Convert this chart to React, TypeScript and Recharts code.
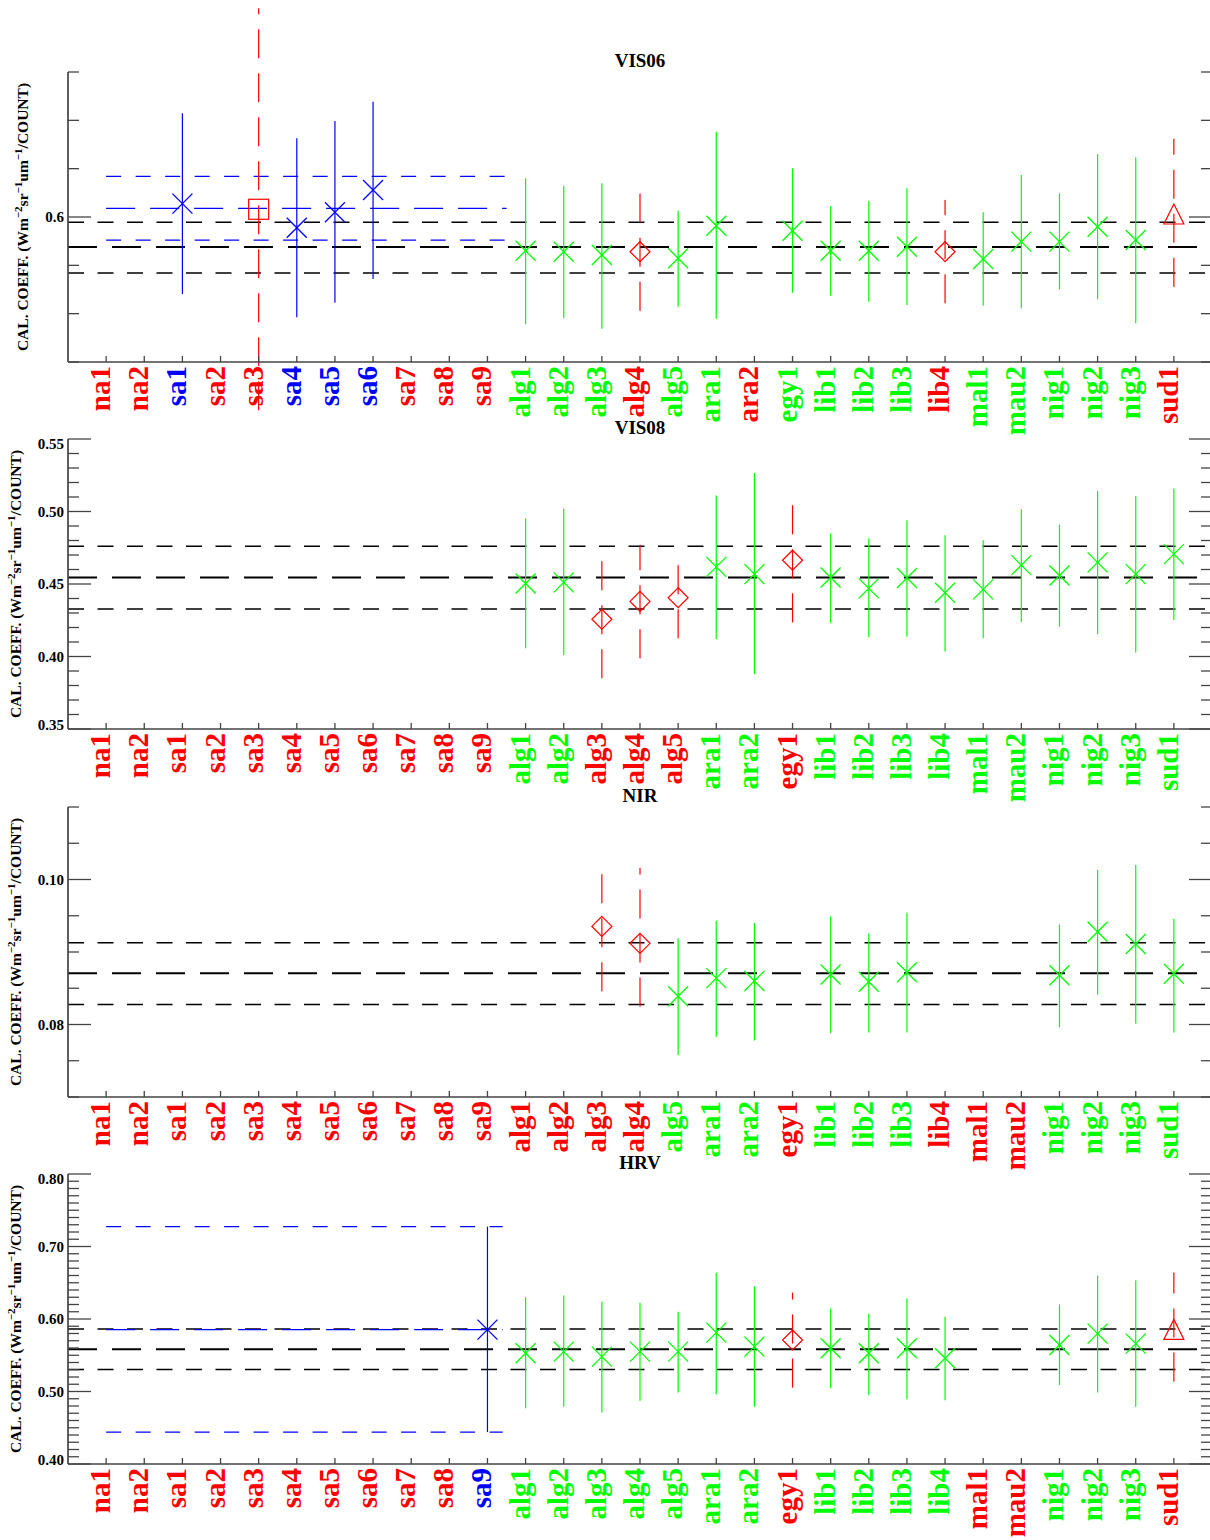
import {
  ComposedChart,
  ErrorBar,
  ReferenceLine,
  Scatter,
  XAxis,
  YAxis,
} from 'recharts';

const SERIF = '"Liberation Serif", "Times New Roman", serif';
const FRAME = '#444';

const SITES = [
  'na1', 'na2', 'sa1', 'sa2', 'sa3', 'sa4', 'sa5', 'sa6', 'sa7', 'sa8', 'sa9',
  'alg1', 'alg2', 'alg3', 'alg4', 'alg5', 'ara1', 'ara2', 'egy1',
  'lib1', 'lib2', 'lib3', 'lib4', 'mal1', 'mau2', 'nig1', 'nig2', 'nig3', 'sud1',
];
const SITE_TICKS = SITES.map((_, i) => i + 1);

const LABEL_COLOR: Record<string, string> = { r: '#ff0000', g: '#00ff00', b: '#0000ff' };

// label colour per site, one code per entry of SITES
const VIS06_LABELS = ['r', 'r', 'b', 'r', 'r', 'b', 'b', 'b', 'r', 'r', 'r', 'g', 'g', 'g', 'r', 'g', 'g', 'r', 'g', 'g', 'g', 'g', 'r', 'g', 'g', 'g', 'g', 'g', 'r'];
const VIS08_LABELS = ['r', 'r', 'r', 'r', 'r', 'r', 'r', 'r', 'r', 'r', 'r', 'g', 'g', 'r', 'r', 'r', 'g', 'g', 'r', 'g', 'g', 'g', 'g', 'g', 'g', 'g', 'g', 'g', 'g'];
const NIR_LABELS = ['r', 'r', 'r', 'r', 'r', 'r', 'r', 'r', 'r', 'r', 'r', 'r', 'r', 'r', 'r', 'g', 'g', 'g', 'r', 'g', 'g', 'g', 'r', 'r', 'r', 'g', 'g', 'g', 'g'];
const HRV_LABELS = ['r', 'r', 'r', 'r', 'r', 'r', 'r', 'r', 'r', 'r', 'b', 'g', 'g', 'g', 'g', 'g', 'g', 'g', 'r', 'g', 'g', 'g', 'g', 'r', 'r', 'g', 'g', 'g', 'r'];

// VIS06
const VIS06_SITES = ['sa1', 'sa3', 'sa4', 'sa5', 'sa6', 'alg1', 'alg2', 'alg3', 'alg4', 'alg5', 'ara1', 'egy1', 'lib1', 'lib2', 'lib3', 'lib4', 'mal1', 'mau2', 'nig1', 'nig2', 'nig3', 'sud1'];
const VIS06_MARKS = ['bx', 'rs', 'bx', 'bx', 'bx', 'gx', 'gx', 'gx', 'rd', 'gx', 'gx', 'gx', 'gx', 'gx', 'gx', 'rd', 'gx', 'gx', 'gx', 'gx', 'gx', 'rt'];
const VIS06_VAL = [0.6138, 0.608, 0.5889, 0.6049, 0.6279, 0.5651, 0.5641, 0.5607, 0.5641, 0.5573, 0.591, 0.5858, 0.5651, 0.5651, 0.5693, 0.5641, 0.5566, 0.5745, 0.5745, 0.59, 0.5762, 0.6031];
const VIS06_LO = [0.5203, 0.4, 0.4962, 0.5114, 0.5359, 0.489, 0.4952, 0.4845, 0.5031, 0.5072, 0.4948, 0.5217, 0.5186, 0.5124, 0.509, 0.5107, 0.5083, 0.5055, 0.5252, 0.5149, 0.49, 0.5279];
const VIS06_HI = [0.7073, 0.816, 0.6814, 0.6993, 0.7193, 0.64, 0.6324, 0.6349, 0.6245, 0.6065, 0.6882, 0.6504, 0.6114, 0.6166, 0.6297, 0.6176, 0.6049, 0.6434, 0.6245, 0.6652, 0.6617, 0.6807];
const VIS06_REF = [0.542, 0.569, 0.5945];
const VIS06_SAT = [0.576, 0.609, 0.642];

// VIS08
const VIS08_SITES = ['alg1', 'alg2', 'alg3', 'alg4', 'alg5', 'ara1', 'ara2', 'egy1', 'lib1', 'lib2', 'lib3', 'lib4', 'mal1', 'mau2', 'nig1', 'nig2', 'nig3', 'sud1'];
const VIS08_MARKS = ['gx', 'gx', 'rd', 'rd', 'rd', 'gx', 'gx', 'rd', 'gx', 'gx', 'gx', 'gx', 'gx', 'gx', 'gx', 'gx', 'gx', 'gx'];
const VIS08_VAL = [0.4504, 0.4511, 0.4257, 0.438, 0.4405, 0.4618, 0.4568, 0.4664, 0.4545, 0.447, 0.4541, 0.444, 0.4463, 0.463, 0.4559, 0.4649, 0.4568, 0.4706];
const VIS08_LO = [0.4057, 0.4011, 0.385, 0.3988, 0.4126, 0.4121, 0.388, 0.4236, 0.4233, 0.4133, 0.4137, 0.4034, 0.4126, 0.4236, 0.4206, 0.4153, 0.4027, 0.4252];
const VIS08_HI = [0.4951, 0.502, 0.4657, 0.4768, 0.4635, 0.5111, 0.5265, 0.5043, 0.4848, 0.4814, 0.494, 0.4836, 0.4802, 0.5015, 0.491, 0.5141, 0.5107, 0.5158];
const VIS08_REF = [0.4327, 0.4545, 0.476];

// NIR
const NIR_SITES = ['alg3', 'alg4', 'alg5', 'ara1', 'ara2', 'lib1', 'lib2', 'lib3', 'nig1', 'nig2', 'nig3', 'sud1'];
const NIR_MARKS = ['rd', 'rd', 'gx', 'gx', 'gx', 'gx', 'gx', 'gx', 'gx', 'gx', 'gx', 'gx'];
const NIR_VAL = [0.09353, 0.0912, 0.0839, 0.0864, 0.086, 0.0869, 0.0859, 0.0872, 0.0868, 0.0928, 0.0911, 0.087];
const NIR_LO = [0.08459, 0.0825, 0.0758, 0.0783, 0.0778, 0.0788, 0.0789, 0.0789, 0.0796, 0.0841, 0.0801, 0.0789];
const NIR_HI = [0.1008, 0.1016, 0.0919, 0.0943, 0.094, 0.0949, 0.0926, 0.0954, 0.0938, 0.1013, 0.102, 0.0946];
const NIR_REF = [0.08275, 0.08706, 0.09129];

// HRV
const HRV_SITES = ['sa9', 'alg1', 'alg2', 'alg3', 'alg4', 'alg5', 'ara1', 'ara2', 'egy1', 'lib1', 'lib2', 'lib3', 'lib4', 'nig1', 'nig2', 'nig3', 'sud1'];
const HRV_MARKS = ['bx', 'gx', 'gx', 'gx', 'gx', 'gx', 'gx', 'gx', 'rd', 'gx', 'gx', 'gx', 'gx', 'gx', 'gx', 'gx', 'rt'];
const HRV_VAL = [0.5853, 0.5527, 0.555, 0.5481, 0.555, 0.555, 0.5812, 0.5619, 0.571, 0.5596, 0.5527, 0.5596, 0.5458, 0.5641, 0.5798, 0.566, 0.5857];
const HRV_LO = [0.444, 0.477, 0.4788, 0.4711, 0.4871, 0.4986, 0.4963, 0.4788, 0.5055, 0.5045, 0.4953, 0.4894, 0.488, 0.5091, 0.4986, 0.4788, 0.5138];
const HRV_HI = [0.7274, 0.6301, 0.6325, 0.6238, 0.6224, 0.61, 0.6637, 0.6453, 0.6362, 0.6142, 0.6073, 0.6283, 0.6032, 0.6201, 0.66, 0.6535, 0.6637];
const HRV_REF = [0.5302, 0.5582, 0.5861];
const HRV_SAT = [0.444, 0.5853, 0.7274];

// axis ranges and labelled ticks
const VIS06_DOMAIN = [0.45, 0.75];
const VIS06_MAJOR = [0.6];
const VIS08_DOMAIN = [0.35, 0.55];
const VIS08_MAJOR = [0.35, 0.4, 0.45, 0.5, 0.55];
const NIR_DOMAIN = [0.07, 0.11];
const NIR_MAJOR = [0.08, 0.1];
const HRV_DOMAIN = [0.4, 0.8];
const HRV_MAJOR = [0.4, 0.5, 0.6, 0.7, 0.8];

const MARK_STYLES: Record<string, { color: string; shape: string; dash?: string }> = {
  gx: { color: '#00ff00', shape: 'x' },
  bx: { color: '#0000ff', shape: 'x' },
  rd: { color: '#ff0000', shape: 'diamond', dash: '29 15' },
  rt: { color: '#ff0000', shape: 'triangle', dash: '29 15' },
  rs: { color: '#ff0000', shape: 'square', dash: '29 15' },
};

const PANELS = [
  {
    title: 'VIS06', sites: VIS06_SITES, marks: VIS06_MARKS, val: VIS06_VAL, lo: VIS06_LO, hi: VIS06_HI,
    labels: VIS06_LABELS, ref: VIS06_REF, sat: VIS06_SAT, satEnd: 11.5,
    domain: VIS06_DOMAIN, major: VIS06_MAJOR, step: 0.05, digits: 1, titleX: 28,
  },
  {
    title: 'VIS08', sites: VIS08_SITES, marks: VIS08_MARKS, val: VIS08_VAL, lo: VIS08_LO, hi: VIS08_HI,
    labels: VIS08_LABELS, ref: VIS08_REF, sat: null, satEnd: 0,
    domain: VIS08_DOMAIN, major: VIS08_MAJOR, step: 0.01, digits: 2, titleX: 21,
  },
  {
    title: 'NIR', sites: NIR_SITES, marks: NIR_MARKS, val: NIR_VAL, lo: NIR_LO, hi: NIR_HI,
    labels: NIR_LABELS, ref: NIR_REF, sat: null, satEnd: 0,
    domain: NIR_DOMAIN, major: NIR_MAJOR, step: 0.005, digits: 2, titleX: 21,
  },
  {
    title: 'HRV', sites: HRV_SITES, marks: HRV_MARKS, val: HRV_VAL, lo: HRV_LO, hi: HRV_HI,
    labels: HRV_LABELS, ref: HRV_REF, sat: HRV_SAT, satEnd: 11.4,
    domain: HRV_DOMAIN, major: HRV_MAJOR, step: 0.01, digits: 2, titleX: 21,
  },
];

const PANEL_TOPS = [0, 367.3, 735.3, 1102.3];
const PLOT_TOP = 72;
const PLOT_H = 290;
const BOTTOM_H = 78;
const CHART_W = 1222;

function Marker({ cx, cy, shape, color }: { cx: number; cy: number; shape: string; color: string }) {
  const r = 10;
  if (shape === 'diamond') {
    return <polygon points={`${cx},${cy - r} ${cx + r},${cy} ${cx},${cy + r} ${cx - r},${cy}`} fill="none" stroke={color} strokeWidth={1.2} />;
  }
  if (shape === 'square') {
    return <rect x={cx - r} y={cy - r} width={2 * r} height={2 * r} fill="none" stroke={color} strokeWidth={1.2} />;
  }
  if (shape === 'triangle') {
    return <polygon points={`${cx},${cy - r} ${cx + r},${cy + r} ${cx - r},${cy + r}`} fill="none" stroke={color} strokeWidth={1.2} />;
  }
  return (
    <g stroke={color} strokeWidth={1.3}>
      <line x1={cx - r} y1={cy - r} x2={cx + r} y2={cy + r} />
      <line x1={cx - r} y1={cy + r} x2={cx + r} y2={cy - r} />
    </g>
  );
}

function buildTicks(domain: number[], step: number) {
  const out: number[] = [];
  for (let v = domain[0]; v <= domain[1] + 1e-9; v += step) out.push(+v.toFixed(6));
  return out;
}

// axis title on the left plus the panel title above the frame
function PanelTitles({ viewBox, bx, title }: any) {
  const cy = viewBox.y + viewBox.height / 2;
  return (
    <g>
      <text x={640} y={PLOT_TOP - 5} textAnchor="middle" fontFamily={SERIF} fontWeight="bold" fontSize={19} fill="#000">
        {title}
      </text>
      <text x={bx} y={cy} transform={`rotate(-90 ${bx} ${cy})`} textAnchor="middle" fontFamily={SERIF} fontWeight="bold" fontSize={15.5} fill="#000">
        CAL. COEFF. (Wm<tspan dy={-6} fontSize={11}>−2</tspan><tspan dy={6}>sr</tspan><tspan dy={-6} fontSize={11}>−1</tspan><tspan dy={6}>um</tspan><tspan dy={-6} fontSize={11}>−1</tspan><tspan dy={6}>/COUNT)</tspan>
      </text>
    </g>
  );
}

function Panel({ cfg, top }: { cfg: any; top: number }) {
  const pts = cfg.sites.map((s: string, i: number) => ({
    x: SITES.indexOf(s) + 1,
    y: cfg.val[i],
    lo: cfg.lo[i],
    hi: cfg.hi[i],
    err: [cfg.val[i] - cfg.lo[i], cfg.hi[i] - cfg.val[i]],
    mark: cfg.marks[i],
  }));
  const groups = Object.keys(MARK_STYLES)
    .map((k) => ({ k, data: pts.filter((p: any) => p.mark === k) }))
    .filter((g) => g.data.length > 0);
  const yTicks = buildTicks(cfg.domain, cfg.step);
  const isMajor = (v: number) => cfg.major.some((m: number) => Math.abs(m - v) < 1e-9);

  const bottomTick = (props: any) => {
    const { x, y, payload } = props;
    const i = payload.value - 1;
    const tx = x + 4;
    const ty = y + 4;
    return (
      <g>
        <line x1={x} y1={y} x2={x} y2={y - 6} stroke={FRAME} strokeWidth={1.3} />
        <text x={tx} y={ty} transform={`rotate(-90 ${tx} ${ty})`} textAnchor="end" fill={LABEL_COLOR[cfg.labels[i]]} fontFamily={SERIF} fontWeight="bold" fontSize={29}>
          {SITES[i]}
        </text>
      </g>
    );
  };
  const topTick = (props: any) => {
    const { x, y } = props;
    return <line x1={x} y1={y} x2={x} y2={y + 6} stroke={FRAME} strokeWidth={1.3} />;
  };
  const leftTick = (props: any) => {
    const { x, y, payload } = props;
    const v = payload.value;
    const major = isMajor(v);
    let dy = 5;
    if (Math.abs(v - cfg.domain[1]) < 1e-9) dy += 5;
    if (Math.abs(v - cfg.domain[0]) < 1e-9) dy -= 4;
    return (
      <g>
        <line x1={x} y1={y} x2={x + (major ? 23 : 11)} y2={y} stroke={FRAME} strokeWidth={1.3} />
        {major && (
          <text x={x - 4} y={y + dy} textAnchor="end" fontFamily={SERIF} fontWeight="bold" fontSize={15} fill="#000">
            {v.toFixed(cfg.digits)}
          </text>
        )}
      </g>
    );
  };
  const rightTick = (props: any) => {
    const { x, y, payload } = props;
    const major = isMajor(payload.value);
    return <line x1={x} y1={y} x2={x - (major ? 23 : 11)} y2={y} stroke={FRAME} strokeWidth={1.3} />;
  };

  const frame = { stroke: FRAME, strokeWidth: 1.7 };

  return (
    <div style={{ position: 'absolute', left: 0, top }}>
      <ComposedChart width={CHART_W} height={PLOT_TOP + PLOT_H + BOTTOM_H} margin={{ top: PLOT_TOP, right: 0, bottom: 0, left: 0 }}>
        <XAxis
          xAxisId="b" type="number" dataKey="x" domain={[0, 30]} ticks={SITE_TICKS} interval={0}
          allowDataOverflow height={BOTTOM_H} tick={bottomTick} tickLine={false} tickSize={0} tickMargin={0} axisLine={frame}
        />
        <XAxis
          xAxisId="t" orientation="top" type="number" domain={[0, 30]} ticks={SITE_TICKS} interval={0}
          allowDataOverflow height={0} tick={topTick} tickLine={false} tickSize={0} tickMargin={0} axisLine={frame}
        />
        <YAxis
          yAxisId="l" type="number" dataKey="y" domain={cfg.domain} ticks={yTicks} interval={0}
          allowDataOverflow width={68} tick={leftTick} tickLine={false} tickSize={0} tickMargin={0} axisLine={frame}
          label={{ content: (p: any) => <PanelTitles viewBox={p.viewBox} bx={cfg.titleX} title={cfg.title} /> }}
        />
        <YAxis
          yAxisId="r" orientation="right" type="number" dataKey="y" domain={cfg.domain} ticks={yTicks} interval={0}
          allowDataOverflow width={10} tick={rightTick} tickLine={false} tickSize={0} tickMargin={0} axisLine={frame}
        />

        <ReferenceLine xAxisId="b" yAxisId="l" y={cfg.ref[0]} stroke="#000" strokeWidth={1.5} strokeDasharray="16 13.5" />
        <ReferenceLine xAxisId="b" yAxisId="l" y={cfg.ref[1]} stroke="#000" strokeWidth={2} strokeDasharray="29 15" />
        <ReferenceLine xAxisId="b" yAxisId="l" y={cfg.ref[2]} stroke="#000" strokeWidth={1.5} strokeDasharray="16 13.5" />

        {cfg.sat &&
          cfg.sat.map((v: number, i: number) => (
            <ReferenceLine
              key={`sat${i}`}
              xAxisId="b"
              yAxisId="l"
              segment={[{ x: 1, y: v }, { x: cfg.satEnd, y: v }]}
              stroke="#0000ff"
              strokeWidth={1.3}
              strokeDasharray={i === 1 ? '29 15' : '15 14.5'}
            />
          ))}

        {pts
          .filter((p: any) => p.mark === 'rs')
          .map((p: any, i: number) => (
            <ReferenceLine
              key={`free${i}`}
              xAxisId="b"
              yAxisId="l"
              ifOverflow="visible"
              segment={[{ x: p.x, y: p.lo }, { x: p.x, y: p.hi }]}
              stroke="#ff0000"
              strokeWidth={1.2}
              strokeDasharray="29 15"
            />
          ))}

        {groups.map((g) => {
          const st = MARK_STYLES[g.k];
          return (
            <Scatter
              key={g.k}
              xAxisId="b"
              yAxisId="l"
              data={g.data}
              isAnimationActive={false}
              shape={(p: any) => <Marker cx={p.cx} cy={p.cy} shape={st.shape} color={st.color} />}
            >
              {g.k !== 'rs' && (
                <ErrorBar
                  dataKey="err"
                  direction="y"
                  width={0}
                  stroke={st.color}
                  strokeWidth={1.2}
                  strokeDasharray={st.dash}
                  isAnimationActive={false}
                />
              )}
            </Scatter>
          );
        })}
      </ComposedChart>
    </div>
  );
}

export default function App() {
  return (
    <div style={{ position: 'absolute', left: 0, top: 0, width: 1210, height: 1540, overflow: 'hidden', background: '#fff' }}>
      {PANELS.map((cfg, i) => (
        <Panel key={cfg.title} cfg={cfg} top={PANEL_TOPS[i]} />
      ))}
    </div>
  );
}
